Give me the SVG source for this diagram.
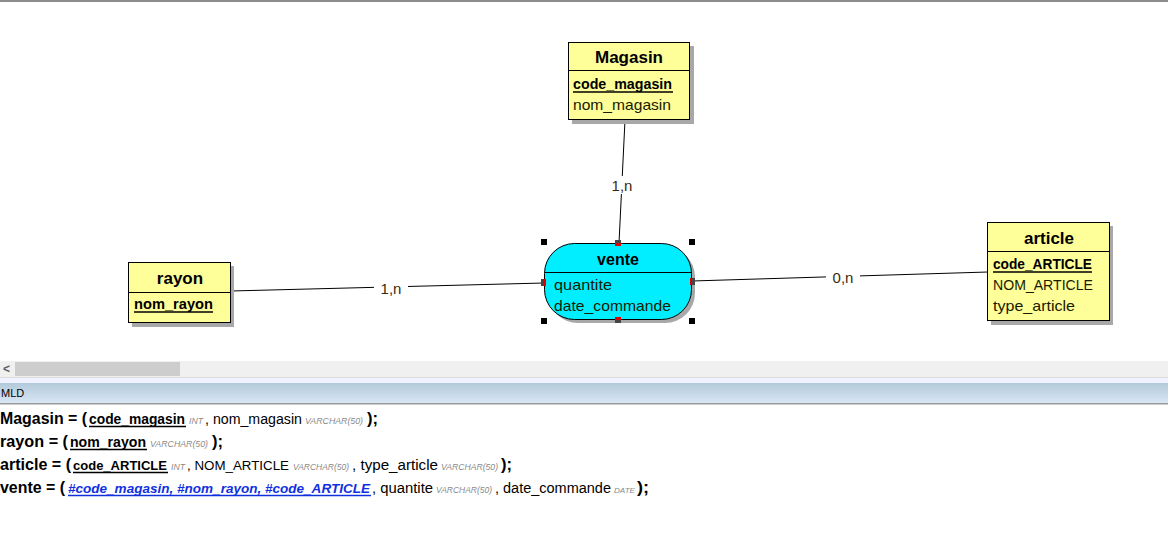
<svg xmlns="http://www.w3.org/2000/svg" width="1168" height="557" viewBox="0 0 1168 557">
<defs>
<linearGradient id="hdr" x1="0" y1="0" x2="0" y2="1">
<stop offset="0" stop-color="#b3c9db"/>
<stop offset="1" stop-color="#d8e6f3"/>
</linearGradient>
</defs>
<style>
text{font-family:"Liberation Sans",Arial,sans-serif;}
.ent{fill:#ffff99;stroke:#000;stroke-width:1;}
.sh{fill:#a8a8a8;}
.title{font-size:17px;font-weight:bold;fill:#000;text-anchor:middle;}
.att{font-size:15px;fill:#1a1a00;}
.key{font-size:15px;font-weight:bold;fill:#000;}
.ul{stroke:#000;stroke-width:1.3;}
.conn{stroke:#000;stroke-width:1;fill:none;}
.card{font-size:15px;fill:#3a2a10;text-anchor:middle;}
.h{fill:#000;}
.red{fill:#e00000;}
.dk{fill:#444;}
.big{font-size:16px;font-weight:bold;fill:#000;}
.col{font-size:14px;font-weight:normal;fill:#000;}
.colk{font-size:14px;font-weight:bold;fill:#000;}
.typ{font-size:9px;font-weight:normal;font-style:italic;fill:#8a8a8a;}
.fk{font-size:13.5px;font-weight:bold;font-style:italic;fill:#1030e0;}
</style>
<rect x="0" y="0" width="1168" height="557" fill="#ffffff"/>
<rect x="0" y="0" width="1168" height="2" fill="#8c8c8c"/>

<g id="connectors">
<line class="conn" x1="625" y1="120" x2="619" y2="243"/>
<line class="conn" x1="231" y1="291" x2="544" y2="283"/>
<line class="conn" x1="692" y1="281" x2="988" y2="272"/>
<rect x="605" y="176" width="34" height="18" fill="#fff"/>
<text class="card" x="622" y="191">1,n</text>
<rect x="374" y="279" width="34" height="18" fill="#fff"/>
<text class="card" x="391" y="294">1,n</text>
<rect x="826" y="268" width="34" height="18" fill="#fff"/>
<text class="card" x="843" y="283">0,n</text>
</g>

<g id="Magasin">
<rect class="sh" x="572" y="46" width="122" height="78"/>
<rect class="ent" x="568.5" y="42.5" width="121" height="77"/>
<line x1="568.5" y1="70.5" x2="689.5" y2="70.5" stroke="#000"/>
<text class="title" x="629" y="63">Magasin</text>
<text class="key" x="573" y="89" textLength="99" lengthAdjust="spacingAndGlyphs">code_magasin</text>
<line class="ul" x1="573" y1="92" x2="673" y2="92"/>
<text class="att" x="573" y="110" textLength="98" lengthAdjust="spacingAndGlyphs">nom_magasin</text>
</g>

<g id="rayon">
<rect class="sh" x="132" y="266" width="102" height="61"/>
<rect class="ent" x="128.5" y="262.5" width="102" height="60"/>
<line x1="128.5" y1="292.5" x2="230.5" y2="292.5" stroke="#000"/>
<text class="title" x="180" y="284">rayon</text>
<text class="key" x="134" y="309" textLength="79" lengthAdjust="spacingAndGlyphs">nom_rayon</text>
<line class="ul" x1="134" y1="312" x2="213" y2="312"/>
</g>

<g id="article">
<rect class="sh" x="991" y="226" width="122" height="99"/>
<rect class="ent" x="987.5" y="222.5" width="122" height="98"/>
<line x1="987.5" y1="251.5" x2="1109.5" y2="251.5" stroke="#000"/>
<text class="title" x="1049" y="244">article</text>
<text class="key" x="993" y="269" textLength="99" lengthAdjust="spacingAndGlyphs">code_ARTICLE</text>
<line class="ul" x1="993" y1="272" x2="1092" y2="272"/>
<text class="att" x="993" y="290" textLength="100" lengthAdjust="spacingAndGlyphs">NOM_ARTICLE</text>
<text class="att" x="993" y="311" textLength="82" lengthAdjust="spacingAndGlyphs">type_article</text>
</g>

<g id="vente">
<rect class="sh" x="548" y="247" width="147" height="76" rx="30" ry="30"/>
<rect x="544.5" y="243.5" width="147" height="76" rx="30" ry="30" fill="#00eeff" stroke="#000"/>
<line x1="545" y1="272.5" x2="691" y2="272.5" stroke="#000"/>
<text class="title" x="618" y="265" style="font-size:16px">vente</text>
<text class="att" x="554" y="290" textLength="58" lengthAdjust="spacingAndGlyphs">quantite</text>
<text class="att" x="554" y="311" textLength="117" lengthAdjust="spacingAndGlyphs">date_commande</text>
<rect class="h" x="541" y="239" width="6" height="6"/>
<rect class="h" x="689" y="239" width="6" height="6"/>
<rect class="h" x="541" y="318" width="6" height="6"/>
<rect class="h" x="689" y="318" width="6" height="6"/>
<rect class="dk" x="615" y="240" width="6" height="3"/>
<rect class="red" x="615" y="243" width="6" height="3"/>
<rect class="red" x="615" y="317" width="6" height="3"/>
<rect class="dk" x="615" y="320" width="6" height="3"/>
<rect class="dk" x="541" y="279" width="3" height="7"/>
<rect class="red" x="544" y="279" width="2" height="7"/>
<rect class="red" x="690" y="278" width="2" height="7"/>
<rect class="dk" x="692" y="278" width="3" height="7"/>
</g>

<g id="scrollbar">
<rect x="0" y="361" width="1168" height="16" fill="#f0f0f0"/>
<rect x="15" y="362" width="165" height="14" fill="#cdcdcd"/>
<text x="3" y="373" style="font-size:12px;font-weight:bold;fill:#606060">&lt;</text>
<rect x="0" y="377" width="1168" height="1" fill="#dcdcdc"/>
</g>

<g id="mld-header">
<rect x="0" y="378" width="1168" height="5" fill="#f0f2ff"/>
<rect x="0" y="383" width="1168" height="20" fill="url(#hdr)"/>
<rect x="0" y="403" width="1168" height="1.5" fill="#999"/>
<text x="1" y="397" style="font-size:11px;fill:#000">MLD</text>
</g>

<g id="mld-text">
<text class="big" y="424"><tspan x="0" textLength="87" lengthAdjust="spacingAndGlyphs">Magasin = (</tspan><tspan class="colk" x="89" textLength="96" lengthAdjust="spacingAndGlyphs">code_magasin</tspan><tspan class="typ" x="189" textLength="14" lengthAdjust="spacingAndGlyphs">INT</tspan><tspan class="col" x="205" textLength="97" lengthAdjust="spacingAndGlyphs">, nom_magasin</tspan><tspan class="typ" x="305" textLength="58" lengthAdjust="spacingAndGlyphs">VARCHAR(50)</tspan><tspan x="367" textLength="11" lengthAdjust="spacingAndGlyphs">);</tspan></text>
<line class="ul" x1="89" y1="426.5" x2="186" y2="426.5"/>

<text class="big" y="447"><tspan x="0" textLength="68" lengthAdjust="spacingAndGlyphs">rayon = (</tspan><tspan class="colk" x="70" textLength="76" lengthAdjust="spacingAndGlyphs">nom_rayon</tspan><tspan class="typ" x="150" textLength="58" lengthAdjust="spacingAndGlyphs">VARCHAR(50)</tspan><tspan x="212" textLength="11" lengthAdjust="spacingAndGlyphs">);</tspan></text>
<line class="ul" x1="70" y1="449.5" x2="147" y2="449.5"/>

<text class="big" y="470"><tspan x="0" textLength="71" lengthAdjust="spacingAndGlyphs">article = (</tspan><tspan class="colk" x="73" textLength="94" lengthAdjust="spacingAndGlyphs" style="font-size:13px">code_ARTICLE</tspan><tspan class="typ" x="171" textLength="14" lengthAdjust="spacingAndGlyphs">INT</tspan><tspan class="col" x="187" textLength="102" lengthAdjust="spacingAndGlyphs" style="font-size:13.2px">, NOM_ARTICLE</tspan><tspan class="typ" x="293" textLength="56" lengthAdjust="spacingAndGlyphs">VARCHAR(50)</tspan><tspan class="col" x="352" textLength="86" lengthAdjust="spacingAndGlyphs">, type_article</tspan><tspan class="typ" x="441" textLength="57" lengthAdjust="spacingAndGlyphs">VARCHAR(50)</tspan><tspan x="501" textLength="11" lengthAdjust="spacingAndGlyphs">);</tspan></text>
<line class="ul" x1="73" y1="472.5" x2="168" y2="472.5"/>

<text class="big" y="493"><tspan x="0" textLength="65" lengthAdjust="spacingAndGlyphs">vente = (</tspan><tspan class="fk" x="68" textLength="302" lengthAdjust="spacingAndGlyphs">#code_magasin, #nom_rayon, #code_ARTICLE</tspan><tspan class="col" x="372" textLength="61" lengthAdjust="spacingAndGlyphs">, quantite</tspan><tspan class="typ" x="436" textLength="56" lengthAdjust="spacingAndGlyphs">VARCHAR(50)</tspan><tspan class="col" x="495" textLength="116" lengthAdjust="spacingAndGlyphs">, date_commande</tspan><tspan class="typ" x="614" textLength="21" lengthAdjust="spacingAndGlyphs" style="font-size:8px">DATE</tspan><tspan x="637" textLength="12" lengthAdjust="spacingAndGlyphs">);</tspan></text>
<line x1="68" y1="495.5" x2="371" y2="495.5" stroke="#1030e0" stroke-width="1.3"/>
</g>
</svg>
